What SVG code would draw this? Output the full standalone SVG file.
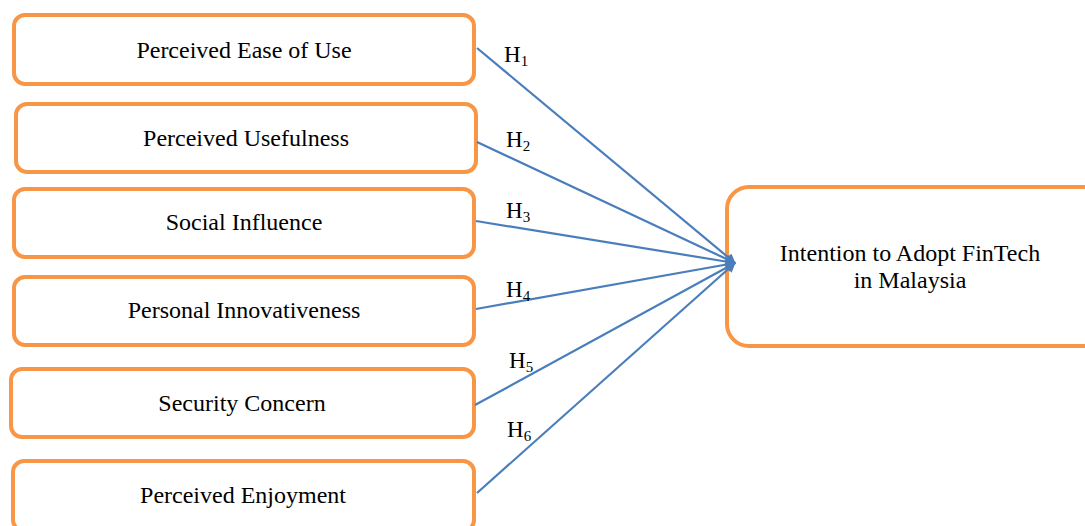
<svg xmlns="http://www.w3.org/2000/svg" width="1085" height="526" viewBox="0 0 1085 526">
<style>
.box{fill:#fff;stroke:#F79646;stroke-width:4}
.t{font-family:"Liberation Serif","Times New Roman",serif;font-size:24px;fill:#000;text-anchor:middle}
.h{font-family:"Liberation Serif","Times New Roman",serif;font-size:23px;fill:#000}
.s{font-size:15px}
.c{stroke:#4A7EBB;stroke-width:2.2;fill:none;marker-end:url(#arr)}
</style>
<defs>
<marker id="arr" viewBox="0 0 10 10" refX="9" refY="5" markerWidth="12" markerHeight="10" markerUnits="userSpaceOnUse" orient="auto">
<path d="M0,0 L10,5 L0,10 z" fill="#4A7EBB"/>
</marker>
</defs>
<rect width="1085" height="526" fill="#fff"/>
<g id="n1"><rect class="box" x="14" y="15" width="460" height="69" rx="11"/><text class="t" x="244" y="58">Perceived Ease of Use</text></g>
<g id="n2"><rect class="box" x="16" y="104" width="460" height="68" rx="11"/><text class="t" x="246" y="146">Perceived Usefulness</text></g>
<g id="n3"><rect class="box" x="14" y="189" width="460" height="68" rx="11"/><text class="t" x="244" y="230">Social Influence</text></g>
<g id="n4"><rect class="box" x="14" y="277" width="460" height="68" rx="11"/><text class="t" x="244" y="318">Personal Innovativeness</text></g>
<g id="n5"><rect class="box" x="11" y="369" width="463" height="68" rx="11"/><text class="t" x="242" y="411">Security Concern</text></g>
<g id="n6"><rect class="box" x="13" y="461" width="461" height="70" rx="11"/><text class="t" x="243" y="503">Perceived Enjoyment</text></g>
<g id="target"><rect class="box" x="727" y="187" width="380" height="159" rx="22"/><text class="t" x="910" y="261">Intention to Adopt FinTech</text><text class="t" x="910" y="288">in Malaysia</text></g>
<g id="connectors">
<line class="c" x1="477" y1="48" x2="735" y2="263"/>
<line class="c" x1="477" y1="142" x2="735" y2="263"/>
<line class="c" x1="476" y1="221" x2="735" y2="263"/>
<line class="c" x1="476" y1="309" x2="735" y2="263"/>
<line class="c" x1="475" y1="405" x2="735" y2="263"/>
<line class="c" x1="477" y1="493" x2="735" y2="263"/>
</g>
<g id="labels">
<text class="h" x="504" y="62">H<tspan class="s" dy="4">1</tspan></text>
<text class="h" x="506" y="147">H<tspan class="s" dy="4">2</tspan></text>
<text class="h" x="506" y="218">H<tspan class="s" dy="4">3</tspan></text>
<text class="h" x="506" y="297">H<tspan class="s" dy="4">4</tspan></text>
<text class="h" x="509" y="368">H<tspan class="s" dy="4">5</tspan></text>
<text class="h" x="507" y="437">H<tspan class="s" dy="4">6</tspan></text>
</g>
</svg>
